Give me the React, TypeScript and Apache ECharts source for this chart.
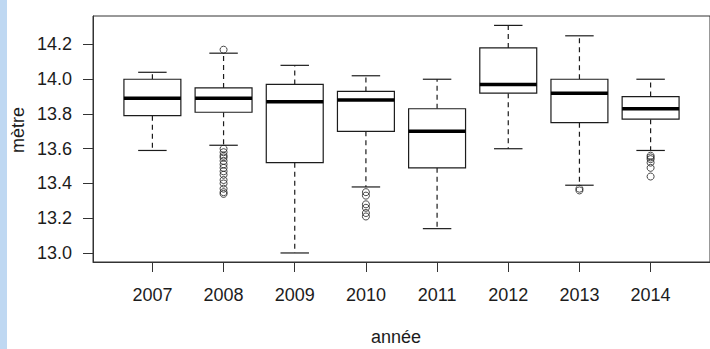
import React, { useEffect, useRef } from "react";
import * as echarts from "echarts";

const years = ["2007", "2008", "2009", "2010", "2011", "2012", "2013", "2014"];
const whiskerLow = [13.59, 13.62, 13.0, 13.38, 13.14, 13.6, 13.39, 13.59];
const quartile1 = [13.79, 13.81, 13.52, 13.7, 13.49, 13.92, 13.75, 13.77];
const medians = [13.89, 13.89, 13.87, 13.88, 13.7, 13.97, 13.92, 13.83];
const quartile3 = [14.0, 13.95, 13.97, 13.93, 13.83, 14.18, 14.0, 13.9];
const whiskerHigh = [14.04, 14.15, 14.08, 14.02, 14.0, 14.31, 14.25, 14.0];

const outliers2008 = [14.17, 13.6, 13.58, 13.56, 13.55, 13.53, 13.51, 13.49, 13.47, 13.45, 13.42, 13.4, 13.37, 13.35, 13.34];
const outliers2010 = [13.35, 13.33, 13.28, 13.26, 13.23, 13.21];
const outliers2013 = [13.37, 13.36];
const outliers2014 = [13.56, 13.55, 13.54, 13.52, 13.49, 13.44];

const yTicks = [13.0, 13.2, 13.4, 13.6, 13.8, 14.0, 14.2];
const xTicks = [1, 2, 3, 4, 5, 6, 7, 8];

const INK = "#1c1c1c";
const FONT = "'Liberation Sans', Arial, sans-serif";

export default function App() {
  const ref = useRef<HTMLDivElement>(null);

  useEffect(() => {
    if (!ref.current) return;
    const chart = echarts.init(ref.current, undefined, { renderer: "svg" });

    const boxData = years.map((_, i) => [
      i + 1,
      whiskerLow[i],
      quartile1[i],
      medians[i],
      quartile3[i],
      whiskerHigh[i],
    ]);

    const outlierGroups: [number, number[]][] = [
      [2, outliers2008],
      [4, outliers2010],
      [7, outliers2013],
      [8, outliers2014],
    ];
    const outlierData: number[][] = [];
    outlierGroups.forEach(([pos, vals]) => vals.forEach((v) => outlierData.push([pos, v])));

    const solid = { stroke: INK, lineWidth: 1.2 };
    const dashed = { stroke: INK, lineWidth: 1.2, lineDash: [5, 4] };

    chart.setOption({
      animation: false,
      backgroundColor: "#ffffff",
      grid: {
        left: 93,
        top: 16,
        width: 623,
        height: 246,
        show: true,
        borderColor: "#333",
        borderWidth: 1,
        containLabel: false,
      },
      graphic: [
        { type: "rect", shape: { x: 0, y: 0, width: 7, height: 349 }, style: { fill: "#bfd8f2" }, silent: true },
        {
          type: "text",
          x: 396,
          y: 337,
          style: { text: "année", fill: INK, font: `18px ${FONT}`, textAlign: "center", textVerticalAlign: "middle" },
        },
        {
          type: "text",
          x: 18,
          y: 130,
          rotation: Math.PI / 2,
          style: { text: "mètre", fill: INK, font: `18px ${FONT}`, textAlign: "center", textVerticalAlign: "middle" },
        },
      ],
      xAxis: {
        type: "value",
        min: 0.1655,
        max: 8.8345,
        splitLine: { show: false },
        axisLine: { show: true, lineStyle: { color: "#333", width: 1 } },
        axisTick: { show: true, length: 10, customValues: xTicks, lineStyle: { color: "#333" } },
        axisLabel: {
          customValues: xTicks,
          formatter: (v: number) => years[Math.round(v) - 1] ?? "",
          margin: 24,
          fontSize: 18,
          fontFamily: FONT,
          color: INK,
        },
      },
      yAxis: {
        type: "value",
        min: 12.948,
        max: 14.364,
        splitLine: { show: false },
        axisLine: { show: true, lineStyle: { color: "#333", width: 1 } },
        axisTick: { show: true, length: 10, customValues: yTicks, lineStyle: { color: "#333" } },
        axisLabel: {
          customValues: yTicks,
          formatter: (v: number) => v.toFixed(1),
          margin: 21,
          fontSize: 18,
          fontFamily: FONT,
          color: INK,
        },
      },
      series: [
        {
          type: "custom",
          data: boxData,
          encode: { x: 0, y: [1, 2, 3, 4, 5] },
          renderItem: (_params: any, api: any) => {
            const x = api.value(0);
            const lo = api.coord([x, api.value(1)]);
            const q1 = api.coord([x, api.value(2)]);
            const med = api.coord([x, api.value(3)]);
            const q3 = api.coord([x, api.value(4)]);
            const hi = api.coord([x, api.value(5)]);
            const bw = api.size([1, 0])[0] * 0.8;
            const half = bw / 2;
            const cap = bw / 4;
            const cx = med[0];
            return {
              type: "group",
              children: [
                { type: "line", shape: { x1: cx, y1: q3[1], x2: cx, y2: hi[1] }, style: dashed },
                { type: "line", shape: { x1: cx, y1: q1[1], x2: cx, y2: lo[1] }, style: dashed },
                { type: "line", shape: { x1: cx - cap, y1: hi[1], x2: cx + cap, y2: hi[1] }, style: solid },
                { type: "line", shape: { x1: cx - cap, y1: lo[1], x2: cx + cap, y2: lo[1] }, style: solid },
                {
                  type: "rect",
                  shape: { x: cx - half, y: q3[1], width: bw, height: q1[1] - q3[1] },
                  style: { fill: "#ffffff", stroke: INK, lineWidth: 1.2 },
                },
                {
                  type: "line",
                  shape: { x1: cx - half, y1: med[1], x2: cx + half, y2: med[1] },
                  style: { stroke: "#000", lineWidth: 3.5 },
                },
              ],
            };
          },
          z: 2,
        },
        {
          type: "scatter",
          data: outlierData,
          symbol: "circle",
          symbolSize: 7,
          itemStyle: { color: "rgba(0,0,0,0)", borderColor: INK, borderWidth: 1 },
          z: 3,
        },
      ],
    });

    return () => chart.dispose();
  }, []);

  return (
    <div
      ref={ref}
      style={{ position: "fixed", left: 0, top: 0, width: 710, height: 349, background: "#fff" }}
    />
  );
}
